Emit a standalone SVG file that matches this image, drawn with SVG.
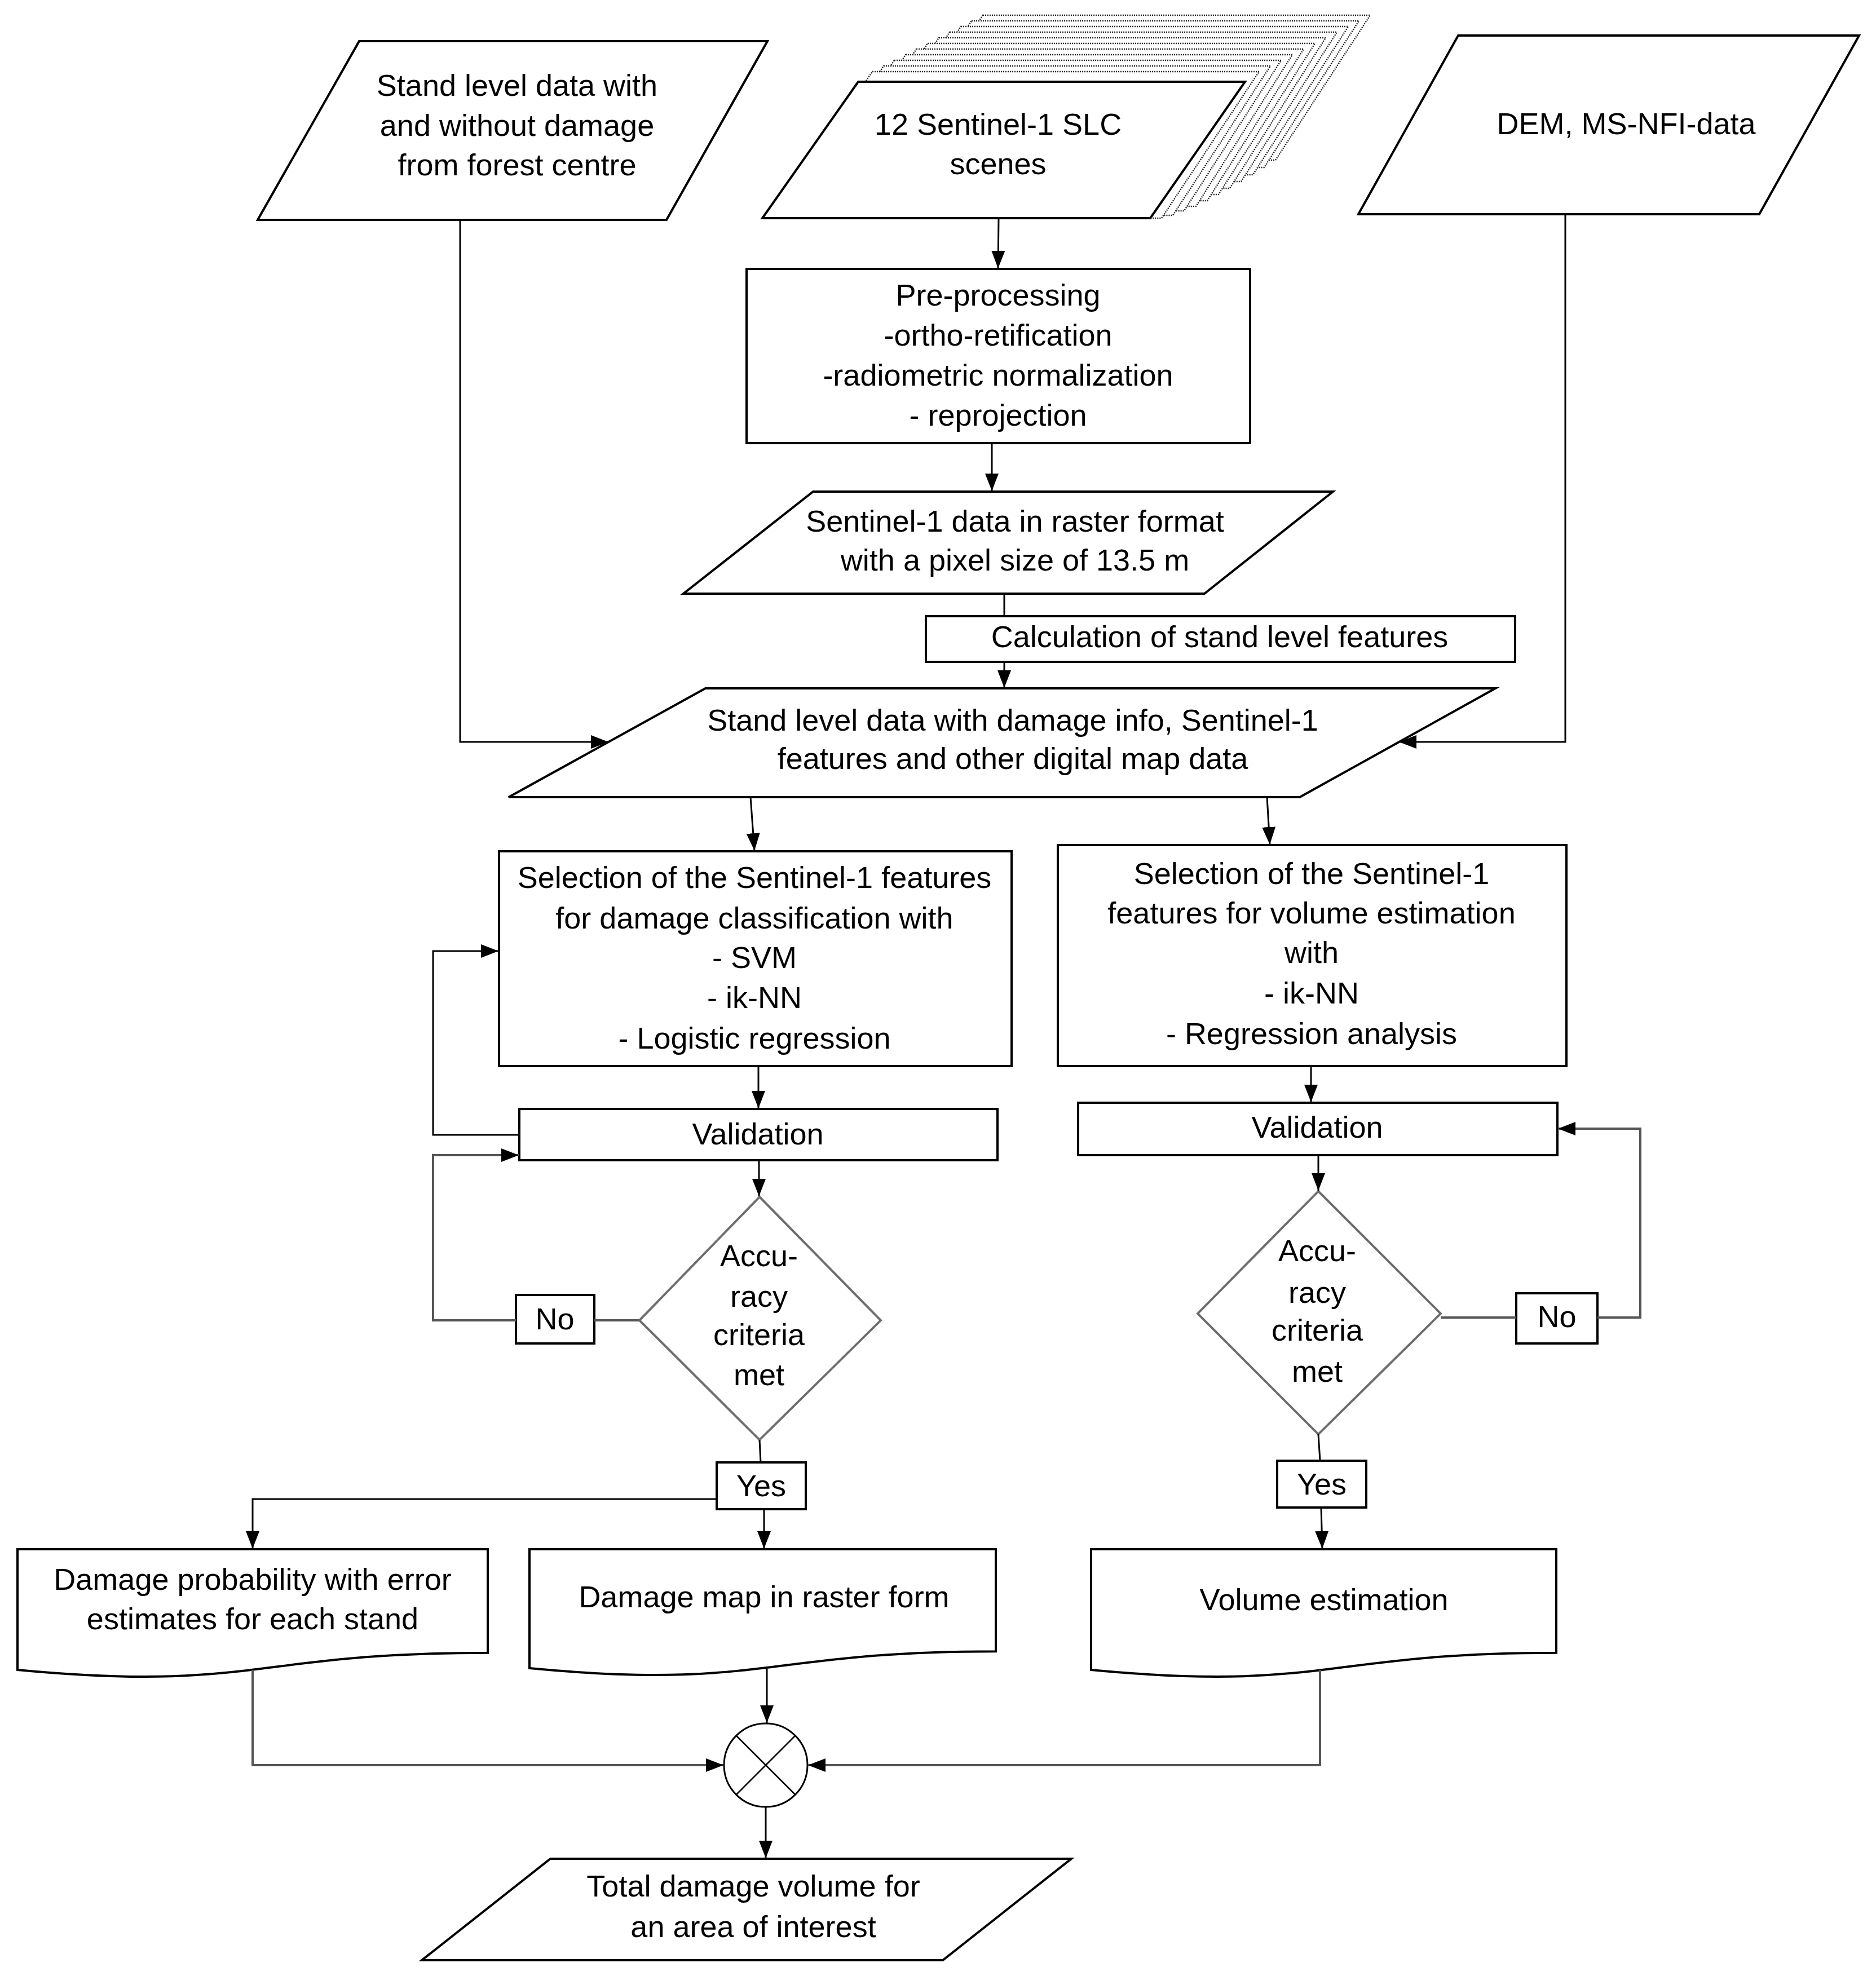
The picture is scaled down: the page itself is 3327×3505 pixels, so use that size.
<svg xmlns="http://www.w3.org/2000/svg" width="3327" height="3505" viewBox="0 0 3327 3505">
<style>
.n{fill:#fff;stroke:#000;stroke-width:4}
.sh{fill:#fff;stroke:#222;stroke-width:2.5;stroke-dasharray:2 2}
.dm{fill:#fff;stroke:#6e6e6e;stroke-width:4}
.c{fill:none;stroke:#000;stroke-width:3}
.g{fill:none;stroke:#555;stroke-width:4}
text{font-family:"Liberation Sans",Arial,sans-serif;font-size:54px;fill:#000;text-anchor:middle}
</style>
<defs>
<marker id="a" markerUnits="userSpaceOnUse" markerWidth="34" markerHeight="26" refX="31" refY="12" orient="auto">
<path d="M0,0 L31,12 L0,24 z" fill="#000"/>
</marker>
</defs>
<rect width="3327" height="3505" fill="#fff"/>
<g id="stand-data">
<polygon class="n" points="637,73 1361,73 1182,390 457,390"/>
<text x="917" y="170">Stand level data with</text>
<text x="917" y="241">and without damage</text>
<text x="917" y="311">from forest centre</text>
</g>
<g id="sentinel-scenes">
<polygon class="sh" points="1743,27 2430,27 2262,284 1574,284"/>
<polygon class="sh" points="1723,37 2410,37 2242,297 1554,297"/>
<polygon class="sh" points="1704,47 2391,47 2222,310 1534,310"/>
<polygon class="sh" points="1684,57 2371,57 2201,322 1513,322"/>
<polygon class="sh" points="1665,67 2351,67 2181,334 1493,334"/>
<polygon class="sh" points="1645,77 2332,77 2161,345 1473,345"/>
<polygon class="sh" points="1625,87 2312,87 2141,356 1453,356"/>
<polygon class="sh" points="1606,97 2292,97 2121,366 1433,366"/>
<polygon class="sh" points="1586,107 2272,107 2100,374 1412,374"/>
<polygon class="sh" points="1567,117 2253,117 2080,382 1392,382"/>
<polygon class="sh" points="1547,127 2233,127 2060,387 1372,387"/>
<polygon class="n" points="1522,145 2208,145 2040,387 1352,387"/>
<text x="1770" y="239">12 Sentinel-1 SLC</text>
<text x="1770" y="309">scenes</text>
</g>
<g id="dem">
<polygon class="n" points="2586,63 3297,63 3120,380 2409,380"/>
<text x="2884" y="238">DEM, MS-NFI-data</text>
</g>
<g id="preprocessing">
<rect class="n" x="1324" y="477" width="893" height="309"/>
<text x="1770" y="542">Pre-processing</text>
<text x="1770" y="613">-ortho-retification</text>
<text x="1770" y="684">-radiometric normalization</text>
<text x="1770" y="755">- reprojection</text>
</g>
<g id="raster-data">
<polygon class="n" points="1442,872 2364,872 2136,1053 1212,1053"/>
<text x="1800" y="943">Sentinel-1 data in raster format</text>
<text x="1800" y="1012">with a pixel size of 13.5 m</text>
</g>
<g id="calc-features">
<rect class="n" x="1642" y="1093" width="1045" height="81"/>
<text x="2163" y="1148">Calculation of stand level features</text>
</g>
<g id="combined-data">
<polygon class="n" points="1251,1221 2652,1221 2305,1414 902,1414"/>
<text x="1796" y="1296">Stand level data with damage info, Sentinel-1</text>
<text x="1796" y="1364">features and other digital map data</text>
</g>
<g id="select-damage">
<rect class="n" x="885" y="1510" width="909" height="381"/>
<text x="1338" y="1575">Selection of the Sentinel-1 features</text>
<text x="1338" y="1647">for damage classification with</text>
<text x="1338" y="1717">- SVM</text>
<text x="1338" y="1788">- ik-NN</text>
<text x="1338" y="1860">- Logistic regression</text>
</g>
<g id="select-volume">
<rect class="n" x="1876" y="1499" width="902" height="392"/>
<text x="2326" y="1568">Selection of the Sentinel-1</text>
<text x="2326" y="1638">features for volume estimation</text>
<text x="2326" y="1708">with</text>
<text x="2326" y="1780">- ik-NN</text>
<text x="2326" y="1852">- Regression analysis</text>
</g>
<g id="validation-left">
<rect class="n" x="921" y="1967" width="848" height="91"/>
<text x="1344" y="2030">Validation</text>
</g>
<g id="validation-right">
<rect class="n" x="1912" y="1956" width="850" height="93"/>
<text x="2336" y="2018">Validation</text>
</g>
<g id="accuracy-left">
<polygon class="dm" points="1347,2123 1562,2342 1347,2554 1134,2342"/>
<text x="1346" y="2246">Accu-</text>
<text x="1346" y="2318">racy</text>
<text x="1346" y="2386">criteria</text>
<text x="1346" y="2457">met</text>
</g>
<g id="accuracy-right">
<polygon class="dm" points="2338,2113 2555,2330 2338,2544 2124,2330"/>
<text x="2336" y="2237">Accu-</text>
<text x="2336" y="2311">racy</text>
<text x="2336" y="2378">criteria</text>
<text x="2336" y="2451">met</text>
</g>
<g id="no-left">
<rect class="n" x="915" y="2297" width="139" height="86"/>
<text x="984" y="2358">No</text>
</g>
<g id="no-right">
<rect class="n" x="2689" y="2294" width="144" height="89"/>
<text x="2761" y="2354">No</text>
</g>
<g id="yes-left">
<rect class="n" x="1271" y="2594" width="158" height="83"/>
<text x="1350" y="2654">Yes</text>
</g>
<g id="yes-right">
<rect class="n" x="2265" y="2591" width="158" height="83"/>
<text x="2344" y="2651">Yes</text>
</g>
<g id="damage-probability">
<path class="n" d="M31,2748 H865 V2931.7 C448,2931.7 448,3001.5 31,2961.9 Z"/>
<text x="448" y="2820">Damage probability with error</text>
<text x="448" y="2890">estimates for each stand</text>
</g>
<g id="damage-map">
<path class="n" d="M939,2748 H1766 V2929.3 C1352.5,2929.3 1352.5,2998.2 939,2959.1 Z"/>
<text x="1355" y="2851">Damage map in raster form</text>
</g>
<g id="volume-estimation">
<path class="n" d="M1935,2748 H2760 V2931.7 C2347.5,2931.7 2347.5,3001.5 1935,2961.9 Z"/>
<text x="2348" y="2856">Volume estimation</text>
</g>
<g id="combine">
<circle cx="1358" cy="3131" r="74" fill="#fff" stroke="#000" stroke-width="3"/>
<line x1="1306" y1="3079" x2="1410" y2="3183" stroke="#000" stroke-width="2.5"/>
<line x1="1410" y1="3079" x2="1306" y2="3183" stroke="#000" stroke-width="2.5"/>
</g>
<g id="total-volume">
<polygon class="n" points="976,3297 1900,3297 1672,3477 748,3477"/>
<text x="1336" y="3364">Total damage volume for</text>
<text x="1336" y="3436">an area of interest</text>
</g>
<g id="connectors">
<polyline class="c" points="816,390 816,1316 1079,1316" marker-end="url(#a)"/>
<polyline class="c" points="2776,380 2776,1316 2481,1316" marker-end="url(#a)"/>
<line class="c" x1="1771" y1="387" x2="1770" y2="476" marker-end="url(#a)"/>
<line class="c" x1="1759" y1="786" x2="1759" y2="871" marker-end="url(#a)"/>
<line class="c" x1="1781" y1="1053" x2="1781" y2="1093"/>
<line class="c" x1="1781" y1="1174" x2="1781" y2="1220" marker-end="url(#a)"/>
<line class="c" x1="1331" y1="1414" x2="1338" y2="1509" marker-end="url(#a)"/>
<line class="c" x1="2247" y1="1414" x2="2252" y2="1498" marker-end="url(#a)"/>
<line class="c" x1="1345" y1="1891" x2="1345" y2="1966" marker-end="url(#a)"/>
<line class="c" x1="2325" y1="1891" x2="2325" y2="1955" marker-end="url(#a)"/>
<line class="c" x1="1346" y1="2058" x2="1346" y2="2122" marker-end="url(#a)"/>
<line class="c" x1="2338" y1="2049" x2="2338" y2="2112" marker-end="url(#a)"/>
<polyline class="c" points="921,2013 768,2013 768,1687 884,1687" marker-end="url(#a)"/>
<polyline class="g" points="915,2342 768,2342 768,2049 920,2049" marker-end="url(#a)"/>
<line class="g" x1="1134" y1="2342" x2="1054" y2="2342"/>
<line class="g" x1="2555" y1="2337" x2="2689" y2="2337"/>
<polyline class="g" points="2833,2337 2909,2337 2909,2002 2763,2002" marker-end="url(#a)"/>
<line class="c" x1="1347" y1="2554" x2="1349" y2="2594"/>
<line class="c" x1="2338" y1="2544" x2="2341" y2="2591"/>
<polyline class="c" points="1271,2659 448,2659 448,2747" marker-end="url(#a)"/>
<line class="c" x1="1355" y1="2677" x2="1355" y2="2747" marker-end="url(#a)"/>
<line class="c" x1="2343" y1="2674" x2="2345" y2="2747" marker-end="url(#a)"/>
<polyline class="g" points="448,2962 448,3131 1283,3131" marker-end="url(#a)"/>
<line class="c" x1="1360" y1="2960" x2="1360" y2="3056" marker-end="url(#a)"/>
<polyline class="g" points="2341,2962 2341,3131 1433,3131" marker-end="url(#a)"/>
<line class="c" x1="1358" y1="3205" x2="1358" y2="3296" marker-end="url(#a)"/>
</g>
</svg>
